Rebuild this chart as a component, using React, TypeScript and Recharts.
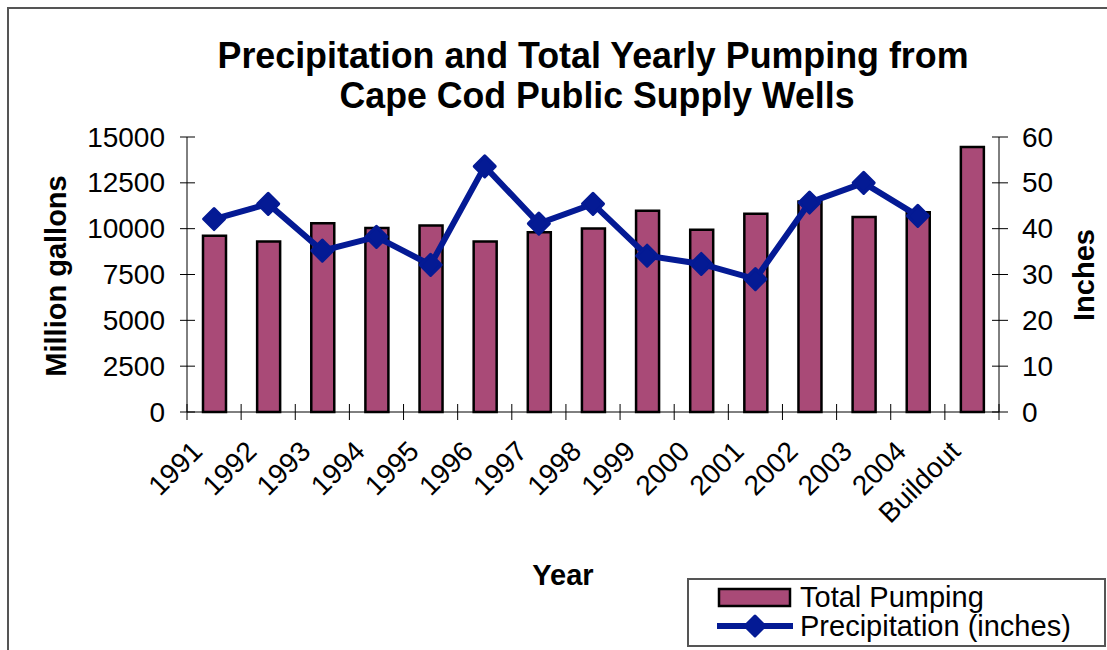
import React from 'react';
import { ComposedChart, Bar, Line, XAxis, YAxis, Legend } from 'recharts';

const years = ['1991', '1992', '1993', '1994', '1995', '1996', '1997', '1998', '1999', '2000', '2001', '2002', '2003', '2004', 'Buildout'];
const pumping = [9610, 9300, 10300, 10030, 10170, 9300, 9810, 10010, 10975, 9940, 10810, 11480, 10630, 10900, 14450];
const precipitation: (number | null)[] = [42.1, 45.4, 35.2, 38.2, 32.1, 53.6, 41.1, 45.4, 34.1, 32.3, 29.0, 45.7, 50.0, 42.8, null];
const leftTicks = [0, 2500, 5000, 7500, 10000, 12500, 15000];
const rightTicks = [0, 10, 20, 30, 40, 50, 60];

const data = years.map((year, i) => ({ year, pumping: pumping[i], precip: precipitation[i] }));

const W = 1107;
const H = 650;
const LEFT_W = 187;
const RIGHT_W = 108;
const BAND = (W - LEFT_W - RIGHT_W) / years.length;
const FONT = "'Liberation Sans', Arial, sans-serif";
const BAR_FILL = '#A94A77';
const LINE_COLOR = '#041A94';

const LeftTick = ({ x, y, payload }: any) => (
  <g>
    <line x1={x - 7} x2={x + 8} y1={y} y2={y} stroke="#000" strokeWidth={1} />
    <text x={x - 22} y={y} textAnchor="end" dominantBaseline="central" fontSize={28} fontFamily={FONT} fill="#000">
      {payload.value}
    </text>
  </g>
);

const RightTick = ({ x, y, payload }: any) => (
  <g>
    <line x1={x - 7} x2={x + 9} y1={y} y2={y} stroke="#000" strokeWidth={1} />
    <text x={x + 23} y={y} textAnchor="start" dominantBaseline="central" fontSize={28} fontFamily={FONT} fill="#000">
      {payload.value}
    </text>
  </g>
);

const BottomTick = ({ x, y, payload, index }: any) => {
  const tx = x - 10;
  const ty = y + 41;
  return (
    <g>
      <line x1={x - BAND / 2} x2={x - BAND / 2} y1={y - 8} y2={y + 8} stroke="#000" strokeWidth={1} />
      {index === years.length - 1 && (
        <line x1={x + BAND / 2} x2={x + BAND / 2} y1={y - 8} y2={y + 8} stroke="#000" strokeWidth={1} />
      )}
      <text x={tx} y={ty} textAnchor="end" transform={`rotate(-45, ${tx}, ${ty})`} fontSize={28} fontFamily={FONT} fill="#000">
        {payload.value}
      </text>
    </g>
  );
};

const Diamond = (props: any) => {
  const { cx, cy, index } = props;
  if (cx == null || cy == null) return <g key={`d-${index}`} />;
  const r = 10.5;
  return (
    <polygon
      key={`d-${index}`}
      points={`${cx},${cy - r} ${cx + r},${cy} ${cx},${cy + r} ${cx - r},${cy}`}
      fill={LINE_COLOR}
      stroke={LINE_COLOR}
      strokeWidth={3}
      strokeLinejoin="round"
    />
  );
};

const LegendBox = (props: any) => {
  const payload = [...(props.payload || [])].sort((a: any, b: any) =>
    a.dataKey === 'pumping' ? -1 : b.dataKey === 'pumping' ? 1 : 0
  );
  return (
    <svg width={420} height={70} style={{ display: 'block' }}>
      <rect x={1} y={1} width={417} height={67} fill="#fff" stroke="#555" strokeWidth={2} />
      {payload.map((entry: any, i: number) => {
        const rowY = i === 0 ? 19 : 48;
        return (
          <g key={entry.value}>
            {entry.dataKey === 'pumping' ? (
              <rect x={32} y={rowY - 8} width={71} height={17} fill={BAR_FILL} stroke="#000" strokeWidth={2.5} />
            ) : (
              <g>
                <line x1={30} x2={106} y1={rowY} y2={rowY} stroke={LINE_COLOR} strokeWidth={6} />
                <polygon points={`68,${rowY - 10} 78,${rowY} 68,${rowY + 10} 58,${rowY}`} fill={LINE_COLOR} stroke={LINE_COLOR} strokeWidth={3} strokeLinejoin="round" />
              </g>
            )}
            <text x={113} y={rowY + 10} fontSize={29} fontFamily={FONT} fill="#000">
              {entry.value}
            </text>
          </g>
        );
      })}
    </svg>
  );
};

export default function App() {
  return (
    <div style={{ position: 'absolute', left: 0, top: 0, width: W, height: H, background: '#fff', overflow: 'hidden' }}>
      <ComposedChart width={W} height={H} data={data} margin={{ top: 137, right: 0, bottom: 138, left: 0 }}>
        <XAxis
          dataKey="year"
          interval={0}
          height={100}
          tickSize={0}
          tickMargin={0}
          tickLine={false}
          axisLine={{ stroke: '#000', strokeWidth: 1 }}
          tick={<BottomTick />}
        />
        <YAxis
          yAxisId="left"
          width={LEFT_W}
          domain={[0, 15000]}
          ticks={leftTicks}
          interval={0}
          tickSize={0}
          tickMargin={0}
          tickLine={false}
          axisLine={{ stroke: '#000', strokeWidth: 1 }}
          tick={<LeftTick />}
        />
        <YAxis
          yAxisId="right"
          orientation="right"
          width={RIGHT_W}
          domain={[0, 60]}
          ticks={rightTicks}
          interval={0}
          tickSize={0}
          tickMargin={0}
          tickLine={false}
          axisLine={{ stroke: '#000', strokeWidth: 1 }}
          tick={<RightTick />}
        />
        <Bar
          yAxisId="left"
          dataKey="pumping"
          name="Total Pumping"
          fill={BAR_FILL}
          stroke="#000"
          strokeWidth={2.5}
          barSize={23}
          isAnimationActive={false}
        />
        <Line
          yAxisId="right"
          dataKey="precip"
          name="Precipitation (inches)"
          stroke={LINE_COLOR}
          strokeWidth={6}
          dot={Diamond}
          activeDot={false}
          isAnimationActive={false}
        />
        <Legend
          layout="vertical"
          verticalAlign="middle"
          align="center"
          content={<LegendBox />}
          wrapperStyle={{ position: 'absolute', left: 687, top: 578, width: 420, height: 70 }}
        />
      </ComposedChart>
      <svg width={W} height={H} style={{ position: 'absolute', left: 0, top: 0, pointerEvents: 'none' }}>
        <rect x={8} y={8} width={1300} height={900} fill="none" stroke="#555" strokeWidth={2} />
        <text x={593} y={68} textAnchor="middle" fontSize={36} fontWeight="bold" fontFamily={FONT} textLength={751} lengthAdjust="spacingAndGlyphs">
          Precipitation and Total Yearly Pumping from
        </text>
        <text x={597} y={108} textAnchor="middle" fontSize={36} fontWeight="bold" fontFamily={FONT} textLength={515} lengthAdjust="spacingAndGlyphs">
          Cape Cod Public Supply Wells
        </text>
        <text x={66} y={276} textAnchor="middle" transform="rotate(-90, 66, 276)" fontSize={29} fontWeight="bold" fontFamily={FONT}>
          Million gallons
        </text>
        <text x={1094} y={275} textAnchor="middle" transform="rotate(-90, 1094, 275)" fontSize={29} fontWeight="bold" fontFamily={FONT}>
          Inches
        </text>
        <text x={563} y={585} textAnchor="middle" fontSize={29} fontWeight="bold" fontFamily={FONT}>
          Year
        </text>
      </svg>
    </div>
  );
}
